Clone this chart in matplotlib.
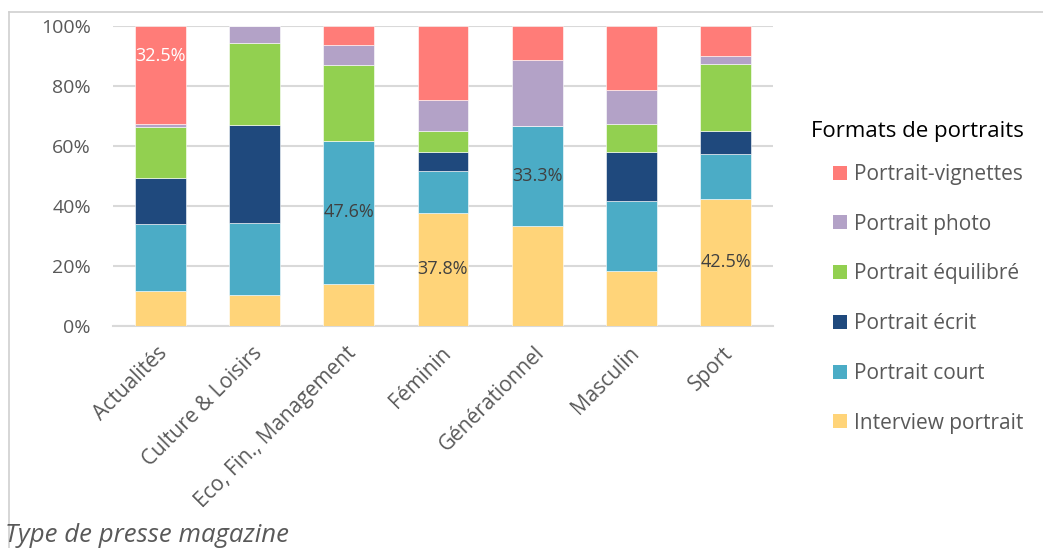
import matplotlib
matplotlib.use("Agg")
import matplotlib.pyplot as plt
from matplotlib.patches import Patch
from matplotlib.lines import Line2D
import matplotlib.transforms as mtransforms
import numpy as np

categories = ["Actualités", "Culture & Loisirs", "Eco, Fin., Management", "Féminin",
              "Générationnel", "Masculin", "Sport"]
interview_portrait = [11.7, 10.5, 14.1, 37.8, 33.3, 18.3, 42.5]
portrait_court = [22.4, 23.9, 47.6, 13.9, 33.3, 23.3, 15.0]
portrait_ecrit = [15.3, 32.6, 0.0, 6.2, 0.0, 16.3, 7.5]
portrait_equilibre = [17.0, 27.4, 25.4, 7.1, 0.0, 9.5, 22.5]
portrait_photo = [1.1, 5.6, 6.5, 10.4, 22.2, 11.4, 2.5]
portrait_vignettes = [32.5, 0.0, 6.4, 24.6, 11.1, 21.2, 10.0]

series_names = ["Interview portrait", "Portrait court", "Portrait écrit",
                "Portrait équilibré", "Portrait photo", "Portrait-vignettes"]
series_values = [interview_portrait, portrait_court, portrait_ecrit,
                 portrait_equilibre, portrait_photo, portrait_vignettes]
colors = ["#FFD479", "#4BACC6", "#1F497D", "#92D050", "#B3A2C7", "#FF7C78"]

# labels shown: (series index, category index, text color, relative position in segment)
labels_shown = [(5, 0, "white", 0.69), (1, 2, "#404040", 0.5), (0, 3, "#404040", 0.5),
                (1, 4, "#404040", 0.5), (0, 6, "#404040", 0.5)]

plt.rcParams['font.family'] = ['Open Sans', 'DejaVu Sans']

fig = plt.figure(figsize=(10.43, 5.48), dpi=100)
ax = fig.add_axes([113/1043, 1 - 326/548, (773-113)/1043, 300/548])

x = np.arange(len(categories))
bottom = np.zeros(len(categories))
containers = []
for name, vals, c in zip(series_names, series_values, colors):
    vals = np.array(vals)
    bc = ax.bar(x, vals, 0.54, bottom=bottom, color=c, label=name,
                edgecolor="white", linewidth=0.4, zorder=3)
    containers.append((bc, bottom.copy(), vals))
    bottom += vals

for si, ci, tc, rel in labels_shown:
    bc, b, vals = containers[si]
    ax.text(x[ci], b[ci] + vals[ci] * rel, f"{vals[ci]:.1f}%", ha="center", va="center",
            color=tc, fontsize=13, zorder=4)

ax.set_xlim(-0.5, len(categories) - 0.5)
ax.set_ylim(0, 100)
ax.set_yticks(np.arange(0, 101, 20))
ax.set_yticklabels([f"{v}%" for v in range(0, 101, 20)], fontsize=14, color="#595959")
ax.yaxis.grid(True, color="#D9D9D9", linewidth=1.5, zorder=0)
ax.set_axisbelow(True)
for s in ["top", "right", "left"]:
    ax.spines[s].set_visible(False)
ax.spines["bottom"].set_color("#D9D9D9")
ax.spines["bottom"].set_linewidth(1.5)
ax.tick_params(axis="both", length=0)
ax.tick_params(axis="y", pad=16)
ax.tick_params(axis="x", pad=12)
ax.set_xticks(x)
ax.set_xticklabels(categories, rotation=45, ha="right", rotation_mode="anchor",
                   fontsize=15, color="#595959")
offset = mtransforms.ScaledTranslation(-3/100, 0, fig.dpi_scale_trans)
for lbl in ax.get_xticklabels():
    lbl.set_transform(lbl.get_transform() + offset)

fig.text(811/1043, 1 - 131/548, "Formats de portraits", fontsize=16, color="black",
         va="center", ha="left")
handles = [Patch(facecolor=c, label=n) for n, c in zip(series_names, colors)][::-1]
leg = fig.legend(handles=handles, loc="upper left", bbox_to_anchor=(833/1043, 1 - 164/548),
                 frameon=False, fontsize=15, labelspacing=1.38, handlelength=0.65,
                 handleheight=0.65, handletextpad=0.35, borderaxespad=0, borderpad=0)
for t in leg.get_texts():
    t.set_color("#595959")

fig.text(5/1043, 1 - 535/548, "Type de presse magazine", fontsize=18.5, style="italic",
         color="#595959", va="center", ha="left")

# chart area border (partial)
fig.add_artist(Line2D([9/1043, 1], [1 - 11.5/548, 1 - 11.5/548], color="#D0D0D0", linewidth=1.2))
fig.add_artist(Line2D([9/1043, 9/1043], [0, 1 - 11.5/548], color="#D0D0D0", linewidth=1.2))

fig.savefig("out.png", dpi=100)
